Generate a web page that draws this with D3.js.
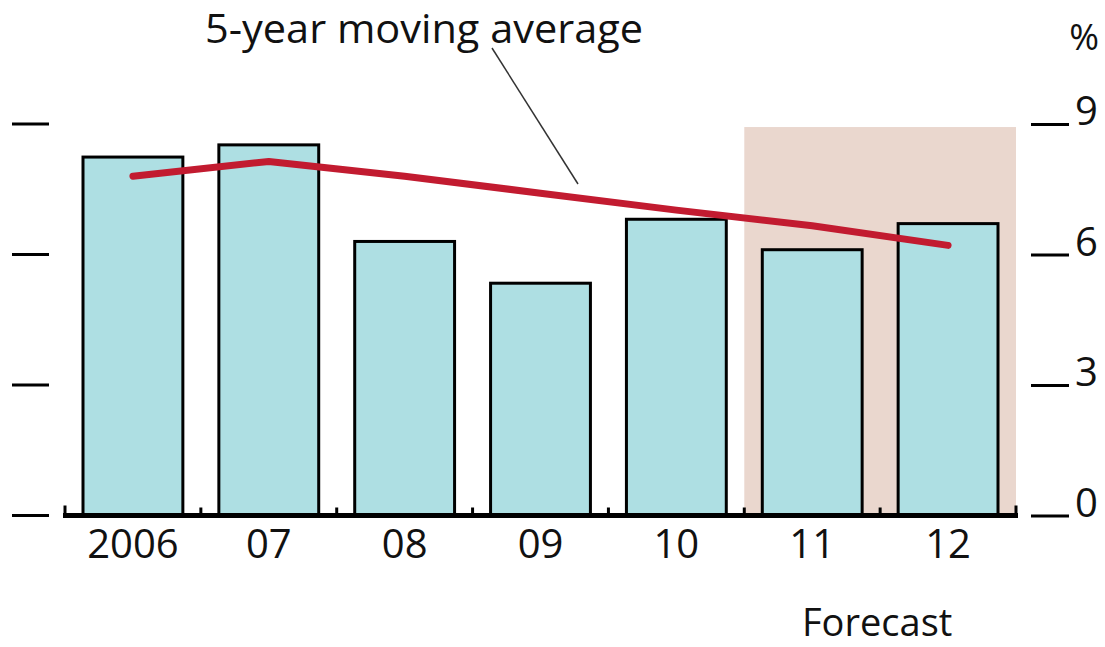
<!DOCTYPE html>
<html>
<head>
<meta charset="utf-8">
<script src="https://cdn.jsdelivr.net/npm/d3@7"></script>
<style>
  html, body { margin: 0; padding: 0; background: #fff; }
  svg { display: block; }
  text { font-family: "Open Sans", "DejaVu Sans", sans-serif; fill: #111; }
</style>
</head>
<body>
<svg id="chart" width="1105" height="647"></svg>
<script>
const categories = ["2006", "07", "08", "09", "10", "11", "12"];
const barValues = [8.24, 8.52, 6.30, 5.34, 6.81, 6.11, 6.71];
const movingAverage = [7.80, 8.14, 7.80, 7.41, 7.02, 6.66, 6.21];
const yTicks = [0, 3, 6, 9];
const forecastCategories = ["11", "12"];
const forecastTop = 8.93;
const unitLabel = "%";
const lineLabel = "5-year moving average";
const forecastLabel = "Forecast";

const svg = d3.select("#chart");

const x = d3.scaleBand()
  .domain(categories)
  .range([65, 1016])
  .paddingInner(0.265)
  .paddingOuter(0.1325);
const step = x.step();
const y = d3.scaleLinear().domain([0, 9]).range([515.5, 124]);

// forecast shading
const fStart = x(forecastCategories[0]) - (step - x.bandwidth()) / 2;
const fEnd = x(forecastCategories[forecastCategories.length - 1]) + x.bandwidth() + (step - x.bandwidth()) / 2;
svg.append("rect")
  .attr("x", fStart)
  .attr("y", y(forecastTop))
  .attr("width", fEnd - fStart)
  .attr("height", y(0) - y(forecastTop))
  .attr("fill", "#EAD7CE");

// bars
svg.append("g").selectAll("rect")
  .data(categories)
  .join("rect")
  .attr("x", d => x(d))
  .attr("y", (d, i) => y(barValues[i]))
  .attr("width", x.bandwidth())
  .attr("height", (d, i) => y(0) - y(barValues[i]))
  .attr("fill", "#AEDFE3")
  .attr("stroke", "#000")
  .attr("stroke-width", 3);

// left y ticks
svg.append("g").selectAll("line")
  .data(yTicks)
  .join("line")
  .attr("x1", 12).attr("x2", 49)
  .attr("y1", d => y(d)).attr("y2", d => y(d))
  .attr("stroke", "#000").attr("stroke-width", 3);

// right y axis
const rightAxis = d3.axisRight(y).tickValues(yTicks).tickSize(38).tickPadding(6);
const gR = svg.append("g").attr("transform", "translate(1031,0)").call(rightAxis);
gR.select(".domain").remove();
gR.selectAll(".tick line").attr("stroke", "#000").attr("stroke-width", 3);
gR.selectAll(".tick text")
  .attr("font-size", 40)
  .attr("font-family", "'Open Sans', sans-serif")
  .attr("fill", "#111")
  .attr("dy", "0.02em");

svg.append("text")
  .attr("x", 1099).attr("y", 50)
  .attr("text-anchor", "end")
  .attr("font-size", 36)
  .text(unitLabel);

// x axis baseline
const x0 = x.range()[0], x1 = x.range()[1];
svg.append("line")
  .attr("x1", x0 - 2).attr("x2", x1 + 2)
  .attr("y1", y(0)).attr("y2", y(0))
  .attr("stroke", "#000").attr("stroke-width", 5);
// boundary ticks (pointing up)
const boundaries = d3.range(categories.length + 1).map(i => x0 + i * step);
svg.append("g").selectAll("line")
  .data(boundaries)
  .join("line")
  .attr("x1", d => d).attr("x2", d => d)
  .attr("y1", y(0)).attr("y2", (d, i) => (i === 0 || i === categories.length) ? y(0) - 10 : y(0) - 8)
  .attr("stroke", "#000").attr("stroke-width", 3);

// x tick labels
const xAxis = d3.axisBottom(x).tickSize(0).tickPadding(14);
const gX = svg.append("g").attr("transform", `translate(0,${y(0)})`).call(xAxis);
gX.select(".domain").remove();
gX.selectAll(".tick text")
  .attr("font-size", 40)
  .attr("font-family", "'Open Sans', sans-serif")
  .attr("fill", "#111");

// moving average line
const line = d3.line()
  .x((d, i) => x(categories[i]) + x.bandwidth() / 2)
  .y(d => y(d));
svg.append("path")
  .datum(movingAverage)
  .attr("d", line)
  .attr("fill", "none")
  .attr("stroke", "#C21B30")
  .attr("stroke-width", 7)
  .attr("stroke-linecap", "round")
  .attr("stroke-linejoin", "round");

// annotation
svg.append("line")
  .attr("x1", 492).attr("y1", 48)
  .attr("x2", 578).attr("y2", 184)
  .attr("stroke", "#333").attr("stroke-width", 1.5);
svg.append("text")
  .attr("x", 205).attr("y", 43)
  .attr("font-size", 40)
  .attr("textLength", 438)
  .attr("lengthAdjust", "spacingAndGlyphs")
  .text(lineLabel);

svg.append("text")
  .attr("x", (fStart + fEnd) / 2 - 3).attr("y", 636)
  .attr("text-anchor", "middle")
  .attr("font-size", 38)
  .text(forecastLabel);
</script>
</body>
</html>
